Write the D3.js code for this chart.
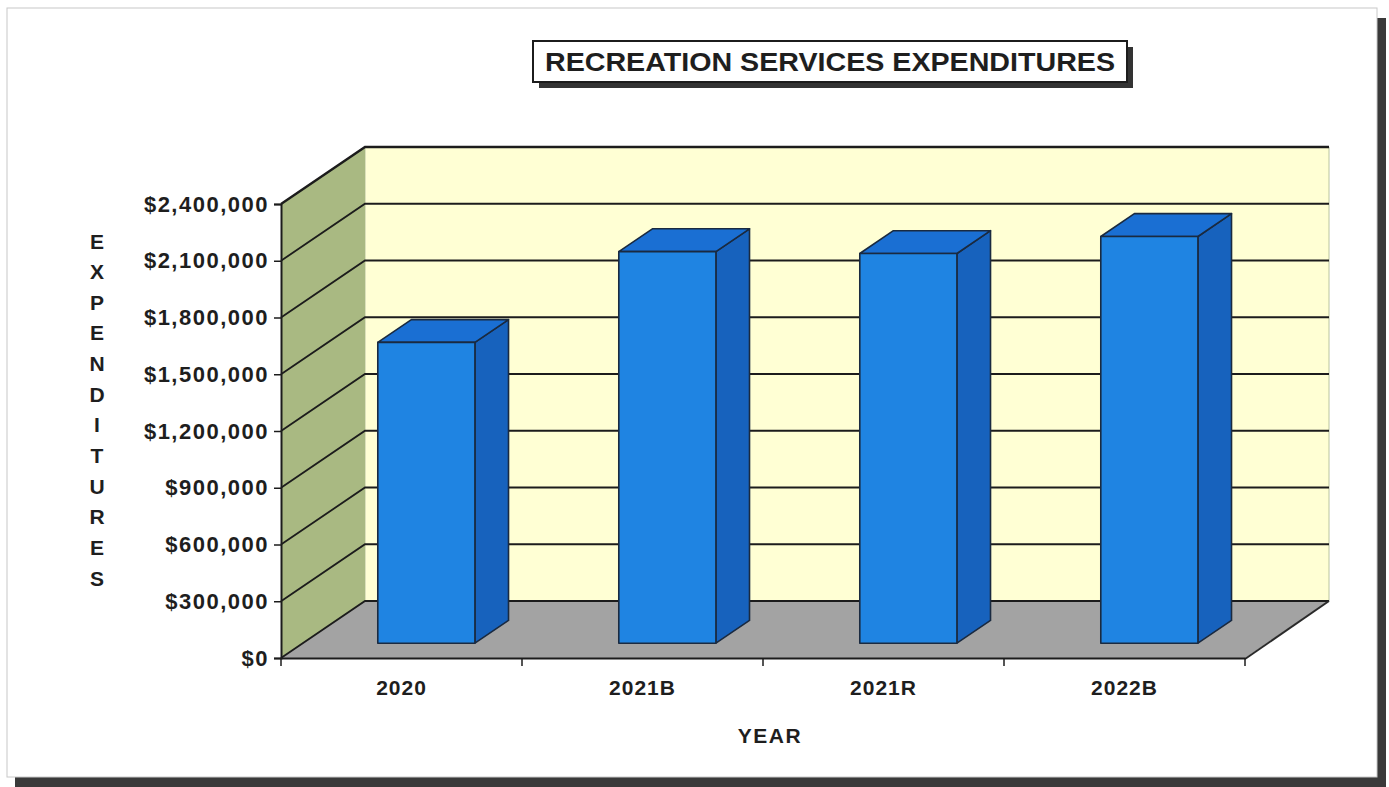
<!DOCTYPE html>
<html>
<head>
<meta charset="utf-8">
<script src="https://cdn.jsdelivr.net/npm/d3@7"></script>
<style>
  html, body { margin: 0; padding: 0; background: #fff; }
  svg { display: block; }
  text { font-family: Arial, "Liberation Sans", sans-serif; font-weight: bold; fill: #1e1e1e; }
</style>
</head>
<body>
<svg id="chart" width="1389" height="787"></svg>
<script>
// Recreation Services expenditures by year
const categories = ["2020", "2021B", "2021R", "2022B"];
const expenditures = [1590000, 2070000, 2060000, 2150000];
const tickValues = [0, 300000, 600000, 900000, 1200000, 1500000, 1800000, 2100000, 2400000];
const titleText = "RECREATION SERVICES EXPENDITURES";
const yTitle = "EXPENDITURES";
const xTitle = "YEAR";

const FONT = "Arial, 'Liberation Sans', sans-serif";
const svg = d3.select("#chart");

// Page frame with drop shadow
svg.append("rect").attr("x", 15).attr("y", 18).attr("width", 1371).attr("height", 769).attr("fill", "#3a3a3a");
svg.append("rect").attr("x", 7).attr("y", 8).attr("width", 1370).attr("height", 769)
  .attr("fill", "#fff").attr("stroke", "#c8c8c8").attr("stroke-width", 1);

// Scales for the front plane of the 3-D box
const x = d3.scaleBand().domain(categories).range([281, 1245]).padding(0);
const y = d3.scaleLinear().domain([0, 2400000]).range([658, 204]);
const DX = 84, DY = -57;           // full depth offset of the box
const proj = (px, py, d) => [px + d * DX, py + d * DY];
const pts = arr => arr.map(p => p.join(",")).join(" ");

const xL = x.range()[0], xR = x.range()[1];
const y0 = y(0), yTop = y(2400000);

const g = svg.append("g");

// Back wall
g.append("polygon")
  .attr("points", pts([proj(xL, yTop, 1), proj(xR, yTop, 1), proj(xR, y0, 1), proj(xL, y0, 1)]))
  .attr("fill", "#ffffd4").attr("stroke", "#b9c4a0").attr("stroke-width", 1);
// Left side wall
g.append("polygon")
  .attr("points", pts([proj(xL, yTop, 0), proj(xL, yTop, 1), proj(xL, y0, 1), proj(xL, y0, 0)]))
  .attr("fill", "#a9b982");
// Floor
g.append("polygon")
  .attr("points", pts([proj(xL, y0, 0), proj(xR, y0, 0), proj(xR, y0, 1), proj(xL, y0, 1)]))
  .attr("fill", "#a3a3a3");

// Gridlines on the side wall and back wall
tickValues.forEach(v => {
  const a = proj(xL, y(v), 0), b = proj(xL, y(v), 1), c = proj(xR, y(v), 1);
  g.append("polyline").attr("points", pts([a, b, c]))
    .attr("fill", "none").attr("stroke", "#1c1c1c")
    .attr("stroke-width", v === 2400000 ? 2.4 : 1.8);
});
// Floor right edge
g.append("line")
  .attr("x1", proj(xR, y0, 0)[0]).attr("y1", proj(xR, y0, 0)[1] + 1)
  .attr("x2", proj(xR, y0, 1)[0]).attr("y2", proj(xR, y0, 1)[1])
  .attr("stroke", "#2a2a2a").attr("stroke-width", 2);

// Bars as 3-D boxes
const bw = x.bandwidth();
const fFront = 0.26, fBack = 0.66;
const barL = 0.311, barW = 0.403;
const bars = g.selectAll("g.bar").data(categories.map((c, i) => ({ c, v: expenditures[i] })))
  .join("g").attr("class", "bar");
bars.each(function (d) {
  const sel = d3.select(this);
  const xa = x(d.c) + bw * barL, xb = xa + bw * barW;
  const yb = y(0), yt = y(d.v);
  const F = (px, py) => proj(px, py, fFront);
  const B = (px, py) => proj(px, py, fBack);
  const poly = (p, fill) => sel.append("polygon").attr("points", pts(p)).attr("fill", fill)
    .attr("stroke", "#1a2a40").attr("stroke-width", 1.6).attr("stroke-linejoin", "round");
  poly([F(xb, yt), B(xb, yt), B(xb, yb), F(xb, yb)], "#1762bd");   // side
  poly([F(xa, yt), B(xa, yt), B(xb, yt), F(xb, yt)], "#1a6fd3");   // top
  poly([F(xa, yt), F(xb, yt), F(xb, yb), F(xa, yb)], "#1f84e2");   // front
});

// Y axis
const yAxis = svg.append("g").attr("transform", `translate(${xL},0)`)
  .call(d3.axisLeft(y).tickValues(tickValues)
    .tickFormat(v => "$" + d3.format(",")(v))
    .tickSize(7).tickPadding(5));
yAxis.select(".domain").attr("stroke", "#1c1c1c").attr("stroke-width", 2);
yAxis.selectAll(".tick line").attr("stroke", "#1c1c1c").attr("stroke-width", 1.5);
yAxis.selectAll(".tick text").attr("font-size", 22).attr("font-family", FONT)
  .attr("font-weight", "bold").attr("fill", "#1e1e1e").attr("letter-spacing", 1.5);

// X axis: labels at band centres, ticks at band boundaries
const xAxis = svg.append("g").attr("transform", `translate(0,${y0})`)
  .call(d3.axisBottom(x).tickSize(0).tickPadding(22));
xAxis.select(".domain").attr("stroke", "#1c1c1c").attr("stroke-width", 2);
xAxis.selectAll(".tick text").attr("font-size", 21).attr("font-family", FONT)
  .attr("font-weight", "bold").attr("fill", "#1e1e1e").attr("letter-spacing", 1);
const bounds = categories.map(c => x(c)).concat([xR]);
xAxis.selectAll("line.bound").data(bounds).join("line").attr("class", "bound")
  .attr("x1", d => d).attr("x2", d => d).attr("y1", 0).attr("y2", 8)
  .attr("stroke", "#1c1c1c").attr("stroke-width", 1.5);

// Axis titles
svg.append("text").attr("x", 770).attr("y", 743).attr("text-anchor", "middle")
  .attr("font-size", 21).attr("letter-spacing", 1.5).text(xTitle);
const letters = yTitle.split("");
const ly = d3.scalePoint().domain(d3.range(letters.length)).range([241, 578]);
svg.append("g").selectAll("text").data(letters).join("text")
  .attr("x", 97).attr("y", (d, i) => ly(i)).attr("dy", "0.36em")
  .attr("text-anchor", "middle").attr("font-size", 21).text(d => d);

// Title box with shadow
const tb = { x: 533, y: 41, w: 594, h: 41 };
svg.append("rect").attr("x", tb.x + 6).attr("y", tb.y + 6).attr("width", tb.w).attr("height", tb.h).attr("fill", "#333");
svg.append("rect").attr("x", tb.x).attr("y", tb.y).attr("width", tb.w).attr("height", tb.h)
  .attr("fill", "#fff").attr("stroke", "#1c1c1c").attr("stroke-width", 2);
svg.append("text").attr("x", tb.x + tb.w / 2).attr("y", tb.y + tb.h / 2).attr("dy", "0.36em")
  .attr("text-anchor", "middle").attr("font-size", 25)
  .attr("textLength", 570).attr("lengthAdjust", "spacingAndGlyphs")
  .attr("fill", "#2a2a2a").text(titleText);
</script>
</body>
</html>
